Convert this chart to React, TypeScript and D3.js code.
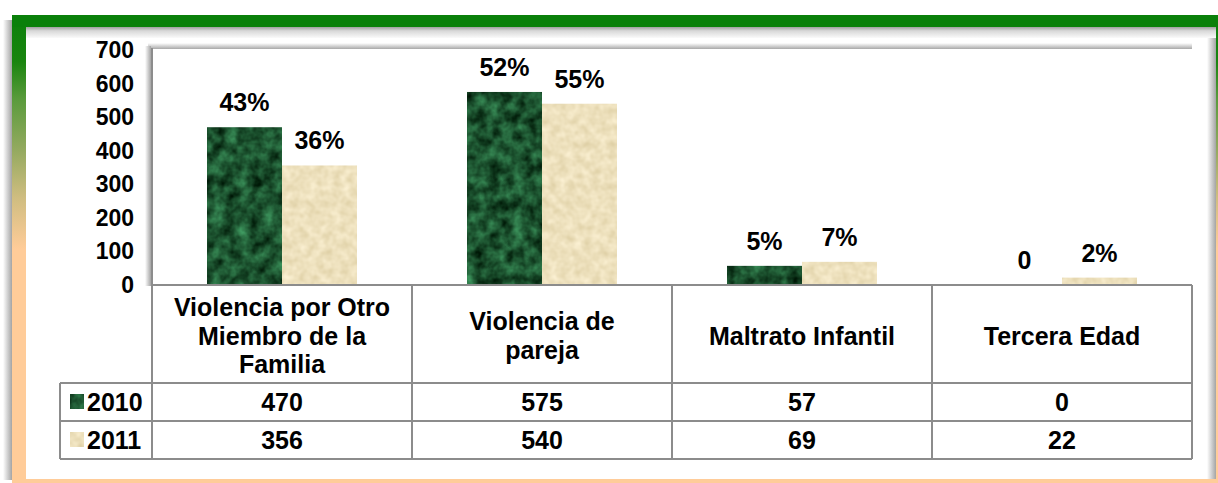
import React from "react";
import * as d3 from "d3";

// chart data
const categories = [
  "Violencia por Otro Miembro de la Familia",
  "Violencia de pareja",
  "Maltrato Infantil",
  "Tercera Edad",
];
// how each category label breaks inside its table cell
const categoryLines = [
  ["Violencia por Otro", "Miembro de la", "Familia"],
  ["Violencia de", "pareja"],
  ["Maltrato Infantil"],
  ["Tercera Edad"],
];
const series = ["2010", "2011"];
const values2010 = [470, 575, 57, 0];
const values2011 = [356, 540, 69, 22];
const labels2010 = ["43%", "52%", "5%", "0"];
const labels2011 = ["36%", "55%", "7%", "2%"];

const width = 1218;
const height = 483;
const plotLeft = 152;
const plotRight = 1192;
const plotTop = 50;
const plotBottom = 285;
const rowTop = [383, 421];
const rowH = 38;
const tableBottom = 459;
const legendLeft = 60;
const font = "'Liberation Sans', Arial, sans-serif";
const lineColor = "#8c8c8c";

const App = () => {
  const x0 = d3.scaleBand().domain(categories).range([plotLeft, plotRight]);
  const barW = 75;
  const x1 = d3
    .scaleBand()
    .domain(series)
    .range([(x0.bandwidth() - 2 * barW) / 2, (x0.bandwidth() + 2 * barW) / 2]);
  const y = d3.scaleLinear().domain([0, 700]).range([plotBottom, plotTop]);
  const ticks = y.ticks(7);

  const seriesData = [
    { name: "2010", values: values2010, labels: labels2010, tex: "url(#texGreen)" },
    { name: "2011", values: values2011, labels: labels2011, tex: "url(#texBeige)" },
  ];

  const catCenter = (c: string) => (x0(c) as number) + x0.bandwidth() / 2;

  return (
    <svg
      width={width}
      height={height}
      style={{ position: "absolute", left: 0, top: 0, background: "#fff" }}
      fontFamily={font}
      fontWeight="bold"
    >
      <defs>
        <filter id="texGreen" x="0" y="0" width="1" height="1" colorInterpolationFilters="sRGB">
          <feTurbulence type="fractalNoise" baseFrequency="0.08" numOctaves={3} seed={4} />
          <feColorMatrix
            type="matrix"
            values="0.32 0 0 0 -0.05  0.65 0 0 0 0.0  0.45 0 0 0 -0.04  0 0 0 0 1"
          />
          <feComposite operator="in" in2="SourceGraphic" />
        </filter>
        <filter id="texBeige" x="0" y="0" width="1" height="1" colorInterpolationFilters="sRGB">
          <feTurbulence type="fractalNoise" baseFrequency="0.12" numOctaves={2} seed={7} />
          <feColorMatrix
            type="matrix"
            values="0.14 0 0 0 0.86  0.16 0 0 0 0.8  0.22 0 0 0 0.63  0 0 0 0 1"
          />
          <feComposite operator="in" in2="SourceGraphic" />
        </filter>
        <linearGradient id="leftBand" gradientUnits="userSpaceOnUse" x1="0" y1="15" x2="0" y2="483">
          <stop offset="0" stopColor="#0a800a" />
          <stop offset="0.1" stopColor="#1a850f" />
          <stop offset="0.18" stopColor="#5a9b3c" />
          <stop offset="0.29" stopColor="#95aa60" />
          <stop offset="0.39" stopColor="#cfbd80" />
          <stop offset="0.5" stopColor="#ffcc99" />
          <stop offset="1" stopColor="#ffcc99" />
        </linearGradient>
        <linearGradient id="shadowL" x1="0" y1="0" x2="1" y2="0">
          <stop offset="0" stopColor="#ffffff" />
          <stop offset="1" stopColor="#a4a4a4" />
        </linearGradient>
        <linearGradient id="shadowR" x1="0" y1="0" x2="1" y2="0">
          <stop offset="0" stopColor="#ffffff" />
          <stop offset="1" stopColor="#a4a4a4" />
        </linearGradient>
        <linearGradient id="shadowTop" x1="0" y1="0" x2="0" y2="1">
          <stop offset="0" stopColor="#a0a0a0" />
          <stop offset="0.35" stopColor="#d8d8d8" />
          <stop offset="1" stopColor="#fafafa" />
        </linearGradient>
        <linearGradient id="shadowDown" x1="0" y1="0" x2="0" y2="1">
          <stop offset="0" stopColor="#ffffff" />
          <stop offset="1" stopColor="#a8a8a8" />
        </linearGradient>
      </defs>

      {/* outer frame */}
      <rect x={3} y={20} width={9} height={460} fill="url(#shadowL)" />
      <rect x={1207} y={27} width={9} height={452} fill="url(#shadowR)" />
      <rect x={26} y={27} width={1190} height={11} fill="url(#shadowTop)" />
      <path
        d={`M12,483 L12,23 Q12,15 20,15 L1218,15 L1218,27 L26,27 L26,483 Z`}
        fill="url(#leftBand)"
      />
      <rect x={12} y={15} width={1206} height={12} fill="#0a800a" />
      <path d="M12,27 L12,23 Q12,15 20,15 L26,15 L26,27 Z" fill="#0a800a" />
      <rect x={1216} y={27} width={2} height={453} fill="url(#leftBand)" />
      <rect x={12} y={479} width={1206} height={4} fill="#ffcc99" />

      {/* plot area shadow */}
      <rect x={148} y={43} width={1044} height={6} fill="url(#shadowDown)" />
      <rect x={145} y={46} width={6} height={240} fill="url(#shadowL)" />
      <line x1={plotLeft} x2={plotLeft} y1={48} y2={tableBottom} stroke={lineColor} strokeWidth={2} />

      {/* y axis labels */}
      {ticks.map((t) => (
        <text key={t} x={134} y={y(t) + 8} textAnchor="end" fontSize={23} fill="#000">
          {t}
        </text>
      ))}

      {/* bars */}
      {seriesData.map((s) =>
        categories.map((c, i) => {
          const bx = (x0(c) as number) + (x1(s.name) as number);
          return (
            <g key={s.name + c}>
              {s.values[i] > 0 && (
                <rect
                  x={bx}
                  y={y(s.values[i])}
                  width={x1.bandwidth()}
                  height={plotBottom - y(s.values[i])}
                  fill="#fff"
                  filter={s.tex}
                />
              )}
              <text
                x={bx + x1.bandwidth() / 2}
                y={y(s.values[i]) - 16}
                textAnchor="middle"
                fontSize={25}
                fill="#000"
              >
                {s.labels[i]}
              </text>
            </g>
          );
        })
      )}

      {/* data table */}
      <line x1={plotLeft} x2={plotRight} y1={plotBottom} y2={plotBottom} stroke={lineColor} strokeWidth={2} />
      {[...rowTop, tableBottom].map((ly) => (
        <line key={ly} x1={legendLeft} x2={plotRight} y1={ly} y2={ly} stroke={lineColor} strokeWidth={2} />
      ))}
      <line x1={legendLeft} x2={legendLeft} y1={rowTop[0]} y2={tableBottom} stroke={lineColor} strokeWidth={2} />
      {categories.map((c) => (
        <line
          key={c}
          x1={(x0(c) as number) + x0.bandwidth()}
          x2={(x0(c) as number) + x0.bandwidth()}
          y1={plotBottom}
          y2={tableBottom}
          stroke={lineColor}
          strokeWidth={2}
        />
      ))}

      {categories.map((c, i) => {
        const lines = categoryLines[i];
        const mid = (plotBottom + rowTop[0]) / 2 + 1.5;
        return (
          <text key={c} textAnchor="middle" fontSize={25} fill="#000">
            {lines.map((l, k) => (
              <tspan key={k} x={catCenter(c)} y={mid + 9 + (k - (lines.length - 1) / 2) * 28.5}>
                {l}
              </tspan>
            ))}
          </text>
        );
      })}

      {seriesData.map((s, r) => (
        <g key={s.name}>
          <rect x={70} y={rowTop[r] + 11} width={14} height={15} fill="#fff" filter={s.tex} />
          <text x={87} y={rowTop[r] + rowH / 2 + 9} fontSize={25} fill="#000">
            {s.name}
          </text>
          {categories.map((c, i) => (
            <text key={c} x={catCenter(c)} y={rowTop[r] + rowH / 2 + 9} textAnchor="middle" fontSize={25} fill="#000">
              {s.values[i]}
            </text>
          ))}
        </g>
      ))}
    </svg>
  );
};

export default App;
